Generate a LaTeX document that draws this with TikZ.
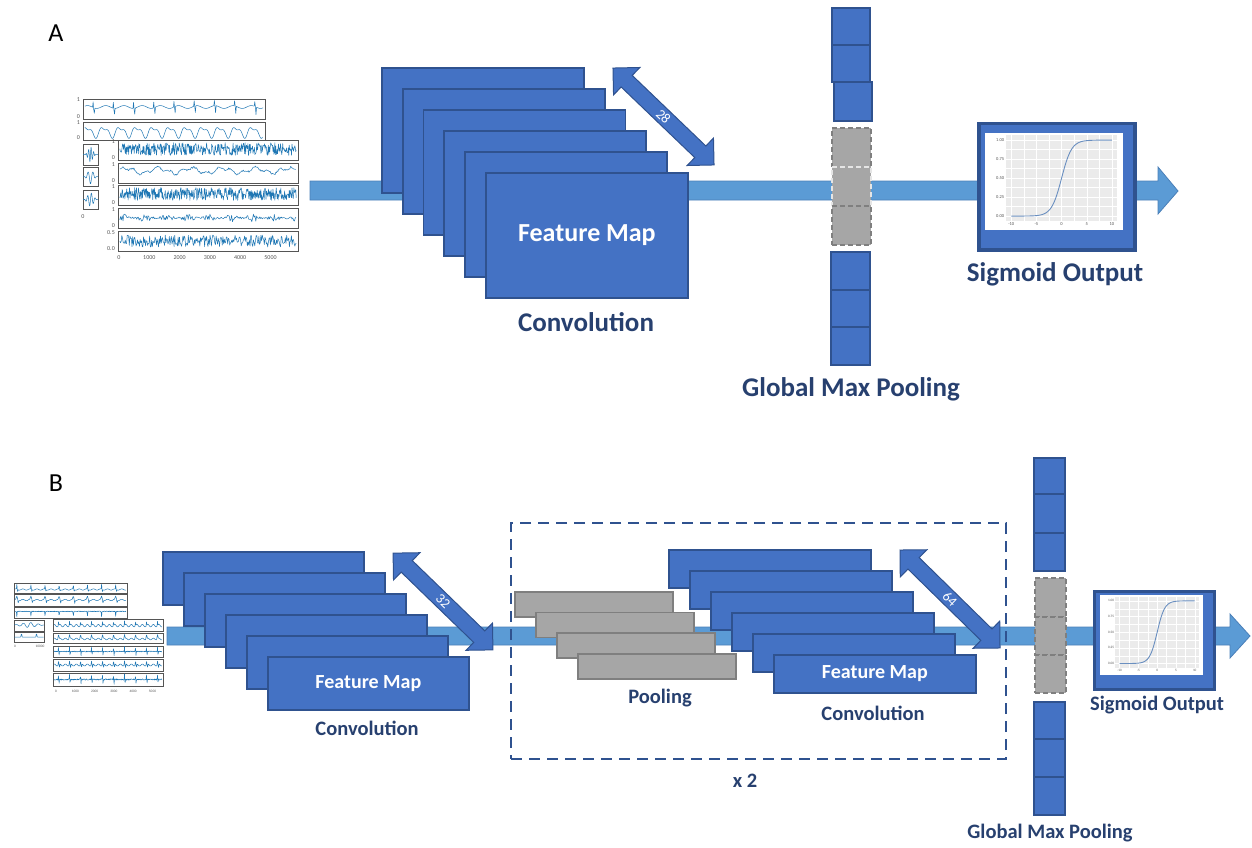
\documentclass[tikz,border=0pt]{standalone}
\usepackage{fontspec}
\setmainfont{Carlito}
\definecolor{boxblue}{HTML}{4472C4}
\definecolor{boxedge}{HTML}{2F528F}
\definecolor{bandblue}{HTML}{5B9BD5}
\definecolor{bandedge}{HTML}{4A7FB8}
\definecolor{navy}{HTML}{27406F}
\definecolor{poolgray}{HTML}{A6A6A6}
\definecolor{pooledge}{HTML}{7F7F7F}
\definecolor{sigblue}{HTML}{1F77B4}
\definecolor{plotbg}{HTML}{EBEBEB}
\definecolor{curvec}{HTML}{6A8FC0}
\definecolor{tickc}{HTML}{555555}

% panel with a signal trace: x0 y0 x1 y1 expr samples
\newcommand{\sigpanel}[6]{%
  \pgfmathsetmacro{\pw}{#3-#1}\pgfmathsetmacro{\ph}{#4-#2}%
  \begin{scope}[shift={(#1,#4)}, x=\pw pt, y=\ph pt]
    \draw[draw=tickc, line width=0.4pt, fill=white] (0,0) rectangle (1,1);
    \draw[sigblue, line width=0.5pt, line join=round] plot[domain=0.01:0.99, samples=#6] (\x, {#5});
  \end{scope}}

% sigmoid plot inside white box: x0 y0 x1 y1 fontsize
\newcommand{\sigplot}[5]{%
  \pgfmathsetmacro{\sw}{#3-#1}\pgfmathsetmacro{\sh}{#4-#2}%
  \begin{scope}[shift={(#1,#4)}, x=\sw pt, y=\sh pt]
    \fill[white] (0,0) rectangle (1,1);
    \fill[plotbg] (0.15,0.09) rectangle (0.96,0.98);
    \foreach \t in {-10,-7.5,...,10}
      \draw[white, line width=0.35pt] ({0.15+0.81*(0.05+0.9*(\t+10)/20)},0.09) -- ++(0,0.89);
    \foreach \s in {0,0.125,...,1}
      \draw[white, line width=0.35pt] (0.15,{0.09+0.89*(0.06+0.88*\s)}) -- ++(0.81,0);
    \draw[curvec, line width=0.9pt] plot[domain=-10:10, samples=90]
      ({0.15+0.81*(0.05+0.9*(\x+10)/20)}, {0.09+0.89*(0.06+0.88*(0.5+0.5*tanh(\x/2)))});
    \foreach \s/\l in {0/0.00,0.25/0.25,0.5/0.50,0.75/0.75,1/1.00}
      \node[anchor=east, inner sep=0.6pt, text=tickc, font=\fontsize{#5}{#5}\selectfont]
        at (0.145,{0.09+0.89*(0.06+0.88*\s)}) {\l};
    \foreach \t in {-10,-5,0,5,10}
      \node[anchor=north, inner sep=0.6pt, text=tickc, font=\fontsize{#5}{#5}\selectfont]
        at ({0.15+0.81*(0.05+0.9*(\t+10)/20)},0.085) {\t};
  \end{scope}}

% double-headed dimension arrow: cx cy angle halflength name text
\newcommand{\dimarrow}[6]{%
  \begin{scope}[shift={(#1,#2)}, rotate=#3]
    \path[dimshape] (-#4,0) -- ({-#4+19},-19) -- ({-#4+19},-8) -- ({#4-19},-8) -- ({#4-19},-19)
      -- (#4,0) -- ({#4-19},19) -- ({#4-19},8) -- ({-#4+19},8) -- ({-#4+19},19) -- cycle;
  \end{scope}
  \node[dimtext, rotate=#3] (#5) at (#1,#2) {#6};}

\begin{document}
\begin{tikzpicture}[x=1pt, y=-1pt,
  fmap/.style={draw=boxedge, fill=boxblue, line width=1.8pt, anchor=north west, inner sep=0pt},
  prect/.style={draw=pooledge, fill=poolgray, line width=1.5pt, anchor=north west,
    minimum width=158pt, minimum height=25pt, inner sep=0pt},
  bcell/.style={draw=boxedge, fill=boxblue, line width=1.6pt, anchor=north west, inner sep=0pt},
  gcell/.style={draw=pooledge, fill=poolgray, line width=1.6pt, dash pattern=on 5pt off 3pt,
    anchor=north west, inner sep=0pt},
  band/.style={fill=bandblue, draw=bandedge, line width=0.8pt},
  dimshape/.style={fill=boxblue, draw=boxedge, line width=1pt, line join=miter},
  dimtext/.style={text=white, font=\fontsize{14}{14}\selectfont, inner sep=0pt},
  lblA/.style={text=navy, font=\fontsize{27}{27}\selectfont\bfseries, inner sep=0pt},
  lblB/.style={text=navy, font=\fontsize{20.5}{20.5}\selectfont\bfseries, inner sep=0pt},
  fmtextA/.style={text=white, font=\fontsize{26}{26}\selectfont\bfseries, inner sep=0pt},
  fmtextB/.style={text=white, font=\fontsize{20}{20}\selectfont\bfseries, inner sep=0pt},
  panel/.style={font=\fontsize{26}{26}\selectfont, inner sep=0pt},
  tick/.style={text=tickc, inner sep=0pt},
  sigbox/.style={draw=boxedge, fill=boxblue, anchor=north west, inner sep=0pt}
]
\useasboundingbox (0,0) rectangle (1252,848);
\pgfmathsetseed{11}

%================ PANEL A =================
\node[panel] (labA) at (56,33) {A};

% main flow band
\path[band] (310,181) -- (1158,181) -- (1158,167) -- (1178,191) -- (1158,214) -- (1158,200) -- (310,200) -- cycle;

% input signals
\sigpanel{83}{99}{265}{119}{0.6+0.07*sin(\x*3600)-0.45*max(0,1-abs(mod(\x*9,1)-0.55)*40)+0.3*max(0,1-abs(mod(\x*9,1)-0.5)*40)}{300}
\sigpanel{83}{122}{265}{140}{0.45+0.25*sin(\x*3960)+0.12*sin(\x*7920+60)}{250}
\sigpanel{83}{144}{98}{165}{0.5+0.4*sin(\x*2160)*max(0,1-abs(\x-0.5)*3)}{40}
\sigpanel{83}{167}{98}{186}{0.5+0.4*sin(\x*1080+90)*max(0,1-abs(\x-0.5)*2.5)}{40}
\sigpanel{83}{190}{98}{209}{0.5+0.4*sin(\x*1440)*max(0,1-abs(\x-0.5)*2.5)}{40}
\sigpanel{118}{140}{298}{160}{0.55+0.32*rand}{380}
\sigpanel{118}{163}{298}{183}{0.62+0.12*sin(\x*2000)+0.08*sin(\x*5300)+0.05*rand}{250}
\sigpanel{118}{185}{298}{205}{0.55+0.32*rand}{380}
\sigpanel{118}{208}{298}{228}{0.5+0.2*rand*(0.6+0.4*sin(\x*3000))}{220}
\sigpanel{118}{231}{298}{251}{0.5+0.3*rand}{260}
\begin{scope}[font=\fontsize{6}{6}\selectfont]
  \foreach \k/\v in {0/0,1/1000,2/2000,3/3000,4/4000,5/5000}
    \node[tick] (tA\k) at ({119+\k*30.3},258) {\v};
  \node[tick] (tA6) at (83,217) {0};
  \foreach \y/\v [count=\i] in {100/1,117/0,123/1,138/0}
    \node[tick, anchor=east] (yA\i) at (80,\y) {\v};
  \foreach \y/\v [count=\i] in {142/1,158/0,165/1,181/0,187/1,203/0,210/1,226/0,233/0.5,249/0.0}
    \node[tick, anchor=east] (yB\i) at (115,\y) {\v};
\end{scope}

% convolution feature maps
\foreach \i in {0,...,5}
  \node[fmap, minimum width=202pt, minimum height=125pt] (fa\i) at ({381+\i*20.8},{67+\i*21}) {};
\node[fmtextA] (fmA) at (fa5.center) {Feature Map};
\node[lblA] (convA) at (586,322) {Convolution};

% kernel size arrow
\dimarrow{663.5}{116.5}{-43.8}{70}{k28}{28}

% global max pooling column
\node[bcell, minimum width=38pt, minimum height=37pt] (ca1) at (831,7) {};
\node[bcell, minimum width=38pt, minimum height=37pt] (ca2) at (831,44) {};
\node[bcell, minimum width=38pt, minimum height=39pt] (ca3) at (833,81) {};
\node[gcell, minimum width=39pt, minimum height=39pt] (ga1) at (831,127) {};
\node[gcell, minimum width=39pt, minimum height=39pt, draw=white!80!pooledge] (ga2) at (831,166) {};
\node[gcell, minimum width=39pt, minimum height=39pt] (ga3) at (831,205) {};
\node[bcell, minimum width=39pt, minimum height=38pt] (ca4) at (830,251) {};
\node[bcell, minimum width=39pt, minimum height=37pt] (ca5) at (830,289) {};
\node[bcell, minimum width=39pt, minimum height=38pt] (ca6) at (830,326) {};
\node[lblA] (gmpA) at (851,389) {Global Max Pooling};

% sigmoid output
\node[sigbox, line width=3.5pt, minimum width=156pt, minimum height=126pt] (sigA) at (977,122) {};
\sigplot{985}{133}{1123}{230}{4.5}
\node[lblA] (soA) at (1055,274) {Sigmoid Output};

%================ PANEL B =================
\node[panel] (labB) at (56,483) {B};

\path[band] (167,627) -- (1230,627) -- (1230,614) -- (1250,636) -- (1230,658) -- (1230,645) -- (167,645) -- cycle;

% input signals
\sigpanel{14}{583}{127}{593}{0.35+0.5*max(0,1-abs(mod(\x*8+0.3,1)-0.5)*30)-0.2*max(0,1-abs(mod(\x*8+0.3,1)-0.56)*30)+0.06*sin(\x*5760)}{260}
\sigpanel{14}{594}{127}{606}{0.5+0.3*max(0,1-abs(mod(\x*8+0.3,1)-0.5)*12)-0.25*max(0,1-abs(mod(\x*8+0.3,1)-0.6)*25)+0.06*sin(\x*5760)}{260}
\sigpanel{14}{607}{127}{618}{0.6-0.5*max(0,1-abs(mod(\x*8+0.3,1)-0.5)*30)+0.03*rand}{260}
\sigpanel{14}{620}{44}{631}{0.55+0.25*sin(\x*1440)*max(0,1-abs(\x-0.5)*2)}{60}
\sigpanel{14}{632}{44}{642}{0.5+0.4*max(0,1-abs(mod(\x*2,1)-0.5)*20)}{60}
\sigpanel{53}{619}{163}{631}{0.45+0.4*max(0,1-abs(mod(\x*10,1)-0.5)*25)+0.1*sin(\x*7200)}{300}
\sigpanel{53}{633}{163}{643}{0.4+0.45*max(0,1-abs(mod(\x*10,1)-0.5)*12)+0.08*sin(\x*7200)}{300}
\sigpanel{53}{646}{163}{657}{0.5+0.45*max(0,1-abs(mod(\x*10,1)-0.5)*30)-0.4*max(0,1-abs(mod(\x*10,1)-0.55)*30)+0.04*rand}{300}
\sigpanel{53}{659}{163}{671}{0.5+0.35*max(0,1-abs(mod(\x*10,1)-0.5)*20)-0.3*max(0,1-abs(mod(\x*10,1)-0.6)*20)+0.08*sin(\x*7200)}{300}
\sigpanel{53}{673}{163}{686}{0.5+0.4*max(0,1-abs(mod(\x*10,1)-0.5)*30)-0.35*max(0,1-abs(mod(\x*10,1)-0.55)*30)+0.05*rand}{300}
\begin{scope}[font=\fontsize{3.5}{3.5}\selectfont]
  \foreach \k/\v in {0/0,1/1000,2/2000,3/3000,4/4000,5/5000}
    \node[tick] (tB\k) at ({56+\k*19.3},691) {\v};
  \node[tick] (tB6) at (15,646) {0};
  \node[tick] (tB7) at (40,646) {10000};
\end{scope}

% first convolution
\foreach \i in {0,...,5}
  \node[fmap, minimum width=201pt, minimum height=53pt] (fb\i) at ({162+\i*21},{551+\i*21}) {};
\node[fmtextB] (fmB1) at (fb5.center) {Feature Map};
\node[lblB] (convB1) at (367,728) {Convolution};
\dimarrow{443}{601.5}{-44.1}{69.5}{k32}{32}

% repeated block
\foreach \i in {0,...,3}
  \node[prect] (pb\i) at ({514+\i*21},{591+\i*20.7}) {};
\node[lblB] (poolB) at (660,698) {Pooling};
\foreach \i in {0,...,5}
  \node[fmap, minimum width=202pt, minimum height=38pt] (fc\i) at ({668+\i*21},{549+\i*21}) {};
\node[fmtextB] (fmB2) at (fc5.center) {Feature Map};
\node[lblB] (convB2) at (873,713) {Convolution};
\dimarrow{950}{599}{-44.4}{70}{k64}{64}
\node[draw=boxedge, dash pattern=on 11pt off 7pt, line width=2.2pt, anchor=north west,
  minimum width=495pt, minimum height=236pt, inner sep=0pt] (rep) at (510,522) {};
\node[lblB] (x2) at (745,781) {x 2};

% global max pooling column
\node[bcell, minimum width=31pt, minimum height=36pt] (cb1) at (1033,457) {};
\node[bcell, minimum width=31pt, minimum height=39pt] (cb2) at (1033,493) {};
\node[bcell, minimum width=31pt, minimum height=38pt] (cb3) at (1033,532) {};
\node[gcell, minimum width=31pt, minimum height=39pt] (gb1) at (1034,577) {};
\node[gcell, minimum width=31pt, minimum height=38pt] (gb2) at (1034,616) {};
\node[gcell, minimum width=31pt, minimum height=38pt] (gb3) at (1034,654) {};
\node[bcell, minimum width=31pt, minimum height=37pt] (cb4) at (1033,701) {};
\node[bcell, minimum width=31pt, minimum height=38pt] (cb5) at (1033,738) {};
\node[bcell, minimum width=31pt, minimum height=38pt] (cb6) at (1033,776) {};
\node[lblB] (gmpB) at (1050,833) {Global Max Pooling};

% sigmoid output
\node[sigbox, line width=3pt, minimum width=120pt, minimum height=98pt] (sigB) at (1093,590) {};
\sigplot{1100}{595}{1203}{675}{3.4}
\node[lblB] (soB) at (1157,705) {Sigmoid Output};
\end{tikzpicture}
\end{document}
